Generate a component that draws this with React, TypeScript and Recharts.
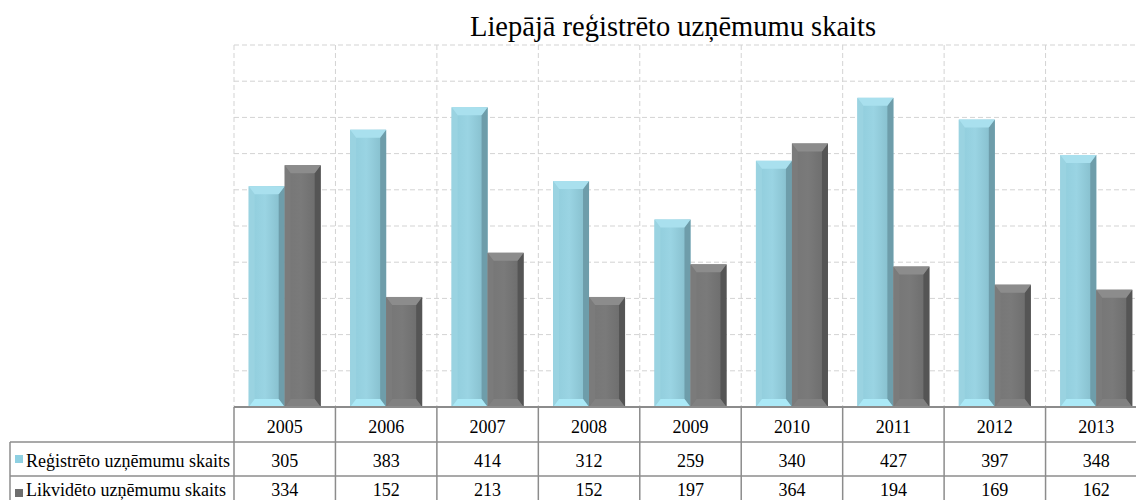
import React from 'react';
import { BarChart, Bar, XAxis, YAxis, CartesianGrid } from 'recharts';

const title = 'Liepājā reģistrēto uzņēmumu skaits';
const years = ['2005', '2006', '2007', '2008', '2009', '2010', '2011', '2012', '2013'];
const registered = [305, 383, 414, 312, 259, 340, 427, 397, 348];
const liquidated = [334, 152, 213, 152, 197, 364, 194, 169, 162];
const seriesNames = ['Reģistrēto uzņēmumu skaits', 'Likvidēto uzņēmumu skaits'];
const yTicks = [0, 50, 100, 150, 200, 250, 300, 350, 400, 450, 500];

const data = years.map((year, i) => ({ year, reg: registered[i], liq: liquidated[i] }));

const FONT = '"Liberation Serif", "Times New Roman", serif';
const CHART_W = 1150;
const CHART_H = 500;
const M_LEFT = 234;
const M_RIGHT = 3;
const M_TOP = 45;
const AXIS_H = 93;
const PLOT_W = CHART_W - M_LEFT - M_RIGHT;
const LINE = '#8C8C8C';
const GRID = '#D3D3D3';

const palette: Record<string, any> = {
  blue: { top: '#A9E0EE', bottom: '#ABE9F7', left: '#9AD3E1', right: '#6E9DAA', swatch: '#8ED0E2' },
  gray: { top: '#8C8C8C', bottom: '#818181', left: '#7B7B7B', right: '#555555', swatch: '#6E6E6E' },
};

const makeBevel = (kind: string) => (props: any) => {
  const { x, y, width: w, height: h } = props;
  if (!h || h <= 0) return <g />;
  const c = palette[kind];
  const b = Math.min(6, w / 4);
  const t = Math.min(8, h / 3);
  return (
    <g>
      <rect x={x} y={y} width={w} height={h} fill={`url(#${kind}Face)`} />
      <polygon points={`${x},${y} ${x + b},${y + t} ${x + b},${y + h - t} ${x},${y + h}`} fill={c.left} />
      <polygon points={`${x + w},${y} ${x + w - b},${y + t} ${x + w - b},${y + h - t} ${x + w},${y + h}`} fill={c.right} />
      <polygon points={`${x},${y} ${x + w},${y} ${x + w - b},${y + t} ${x + b},${y + t}`} fill={c.top} />
      <polygon points={`${x},${y + h} ${x + b},${y + h - t} ${x + w - b},${y + h - t} ${x + w},${y + h}`} fill={c.bottom} />
    </g>
  );
};

const BlueBar = makeBevel('blue');
const GrayBar = makeBevel('gray');

const TableTick = (props: any) => {
  const { x, y, payload, index } = props;
  const half = PLOT_W / years.length / 2;
  const left = x - half;
  const right = x + half;
  const r1 = y + 35;
  const r2 = y + 69;
  const textStyle = { fontFamily: FONT, fontSize: 18, fill: '#000' };
  return (
    <g>
      <line x1={left} y1={y} x2={left} y2={y + 110} stroke={LINE} strokeWidth={1.5} />
      <line x1={left} y1={r1} x2={right} y2={r1} stroke={LINE} strokeWidth={1.5} />
      <line x1={left} y1={r2} x2={right} y2={r2} stroke={LINE} strokeWidth={1.5} />
      <text x={x} y={y + 26} textAnchor="middle" style={textStyle}>{payload.value}</text>
      <text x={x} y={y + 60} textAnchor="middle" style={textStyle}>{registered[index]}</text>
      <text x={x} y={y + 89} textAnchor="middle" style={textStyle}>{liquidated[index]}</text>
      {index === 0 && (
        <g>
          <line x1={10} y1={r1} x2={left} y2={r1} stroke={LINE} strokeWidth={1.5} />
          <line x1={10} y1={r2} x2={left} y2={r2} stroke={LINE} strokeWidth={1.5} />
          <line x1={10} y1={r1} x2={10} y2={y + 110} stroke={LINE} strokeWidth={1.5} />
          <rect x={15} y={r1 + 13} width={8} height={8} fill={palette.blue.swatch} />
          <rect x={15} y={r2 + 13} width={8} height={8} fill={palette.gray.swatch} />
          <text x={26} y={y + 60} style={textStyle}>{seriesNames[0]}</text>
          <text x={26} y={y + 89} style={textStyle}>{seriesNames[1]}</text>
        </g>
      )}
    </g>
  );
};

export default function App() {
  return (
    <div style={{ position: 'absolute', left: 0, top: 0, width: 1136, height: 500, overflow: 'hidden', background: '#fff' }}>
      <div
        style={{
          position: 'absolute',
          left: 373,
          width: 600,
          top: 13,
          textAlign: 'center',
          fontFamily: FONT,
          fontSize: 28.5,
          lineHeight: '28.5px',
          color: '#000',
          whiteSpace: 'nowrap',
          zIndex: 2,
        }}
      >
        {title}
      </div>
      <BarChart
        width={CHART_W}
        height={CHART_H}
        data={data}
        margin={{ top: M_TOP, right: M_RIGHT, left: M_LEFT, bottom: 0 }}
        barCategoryGap="14.5%"
        barGap={0}
      >
        <defs>
          <linearGradient id="blueFace" x1="0" y1="0" x2="1" y2="0">
            <stop offset="0%" stopColor="#8FCCDB" />
            <stop offset="45%" stopColor="#9AD4E3" />
            <stop offset="100%" stopColor="#82BAC8" />
          </linearGradient>
          <linearGradient id="grayFace" x1="0" y1="0" x2="1" y2="0">
            <stop offset="0%" stopColor="#767676" />
            <stop offset="45%" stopColor="#7A7A7A" />
            <stop offset="100%" stopColor="#6A6A6A" />
          </linearGradient>
        </defs>
        <CartesianGrid
          stroke={GRID}
          strokeDasharray="5 3"
          horizontalCoordinatesGenerator={({ offset }: any) =>
            yTicks.map((t) => offset.top + offset.height * (1 - t / yTicks[yTicks.length - 1]))
          }
          verticalCoordinatesGenerator={({ offset }: any) =>
            years.map((_, i) => offset.left + (i * offset.width) / years.length)
          }
        />
        <YAxis hide domain={[0, 500]} ticks={yTicks} />
        <XAxis
          dataKey="year"
          height={AXIS_H}
          interval={0}
          tickLine={false}
          tickSize={0}
          tickMargin={0}
          axisLine={{ stroke: LINE, strokeWidth: 2 }}
          tick={<TableTick />}
        />
        <Bar dataKey="reg" name={seriesNames[0]} shape={<BlueBar />} isAnimationActive={false} />
        <Bar dataKey="liq" name={seriesNames[1]} shape={<GrayBar />} isAnimationActive={false} />
      </BarChart>
    </div>
  );
}
